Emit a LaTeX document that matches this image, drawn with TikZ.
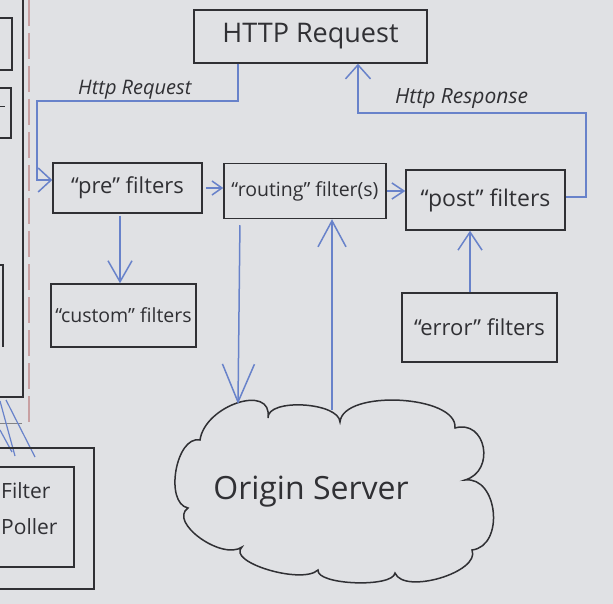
\documentclass[tikz,border=0pt]{standalone}
\usepackage{fontspec}
\setmainfont{Open Sans}
\usetikzlibrary{arrows.meta}
\definecolor{board}{RGB}{224,225,228}
\definecolor{ink}{RGB}{48,48,52}
\definecolor{pen}{RGB}{104,130,202}
\definecolor{redpen}{RGB}{200,160,162}
\begin{document}
\begin{tikzpicture}[x=1pt,y=-1pt,
  box/.style={draw=ink,line width=1.5pt,inner sep=0pt,text=ink},
  line/.style={draw=ink,line width=1.5pt},
  bline/.style={draw=pen,line width=1.5pt},
  arr/.style 2 args={draw=pen,line width=1.5pt,-{Straight Barb[length=#1,width=#2]}},
  lbl/.style={text=ink,inner sep=0pt,font=\itshape\fontsize{#1}{#1}\selectfont},
  fs/.style={font=\fontsize{#1}{#1}\selectfont}]
\useasboundingbox (0,0) rectangle (613,604);
\fill[board] (0,0) rectangle (613,604);
\clip (0,0) rectangle (613,604);

% ---- left side fragments ----
\draw[line] (-2,18) -- (12,18) -- (12,70) -- (-2,70);
\draw[line] (-2,88) -- (11,88) -- (11,138) -- (-2,138);
\draw[line,line width=1pt] (0,107) -- (5,107);
\draw[line] (-2,265) -- (3,265) -- (3,347);
\draw[line] (23,-2) -- (23,397) -- (-2,397);
\draw[draw=redpen,line width=1.3pt,dash pattern=on 26pt off 7pt] (29,0) -- (29,428);
\draw[draw=ink!60,line width=1pt] (0,423) -- (22,423);
\draw[bline,line width=1.2pt] (0,401) -- (15,456);
\draw[bline,line width=1.2pt] (6,400) -- (35,457);
\draw[bline,line width=1.2pt] (0,430) -- (12,452);
\draw[line] (-2,448) -- (94,448) -- (94,589) -- (-2,589);
\draw[line] (-2,467) -- (74,467) -- (74,567) -- (-2,567);
\node[text=ink,fs=21,anchor=west,inner sep=0pt] (filter) at (1,491) {Filter};
\node[text=ink,fs=21,anchor=west,inner sep=0pt] (poller) at (1,527) {Poller};

% ---- main boxes ----
\node[box,minimum width=233pt,minimum height=53pt,fs=27] (httpreq) at (310.5,36.5) {HTTP Request};
\node[box,minimum width=149pt,minimum height=50pt,fs=22] (pre) at (127.5,188) {“pre” filters};
\node[box,minimum width=162pt,minimum height=55pt,fs=19.5] (routing) at (305,191) {“routing” filter(s)};
\node[box,minimum width=159pt,minimum height=60pt,fs=23] (post) at (485.5,200) {“post” filters};
\node[box,minimum width=145pt,minimum height=63pt,fs=19.5] (custom) at (123.5,315.5) {“custom” filters};
\node[box,minimum width=155pt,minimum height=69pt,fs=22] (error) at (479.5,327.5) {“error” filters};

% ---- cloud ----
\draw[line] (200,440)
  .. controls (205,405) and (273,383) .. (268,418)
  .. controls (267,398) and (339,402) .. (340,422)
  .. controls (343,389) and (458,395) .. (455,428)
  .. controls (486,419) and (496,471) .. (465,480)
  .. controls (498,476) and (505,546) .. (472,550)
  .. controls (481,572) and (404,595) .. (395,573)
  .. controls (393,588) and (316,585) .. (318,570)
  .. controls (302,585) and (226,562) .. (242,547)
  .. controls (222,561) and (168,522) .. (188,508)
  .. controls (164,503) and (176,435) .. (200,440) -- cycle;
\node[text=ink,fs=32] (origin) at (311,492) {Origin Server};
\coordinate (cloudA) at (238,404);
\coordinate (cloudB) at (332,410);

% ---- connectors ----
\coordinate (reqcorner) at (37,101);
\coordinate (respcorner) at (586,113);
\draw[arr={13pt}{24pt}] ([xshift=-72.5pt]httpreq.south) |- (reqcorner) |- ([yshift=8pt]pre.west);
\draw[arr={14pt}{25pt}] ([yshift=3pt]post.east) -| (respcorner) -| ([xshift=47.5pt]httpreq.south);
\node[lbl=20,anchor=south west] (reqlbl) at (78,99) {Http Request};
\node[lbl=21,anchor=south west] (resplbl) at (395,109) {Http Response};

\draw[arr={10pt}{14pt}] ([xshift=3pt]pre.east) -- (pre.east -| routing.west);
\draw[arr={12pt}{16pt}] (routing.east) -- (routing.east -| post.west);
\draw[arr={21pt}{24pt}] ([xshift=-7.5pt,yshift=-2pt]pre.south) -- ([xshift=-7.5pt]pre.south |- custom.north);
\draw[arr={18pt}{24pt}] ([xshift=-9.5pt]error.north) -- ([xshift=-9.5pt]error.north |- post.south);
\draw[arr={38pt}{32pt},shorten <=6pt] ([xshift=-65pt]routing.south) -- (cloudA);
\draw[arr={26pt}{28pt}] (cloudB) -- ([xshift=27pt]routing.south);
\end{tikzpicture}
\end{document}
